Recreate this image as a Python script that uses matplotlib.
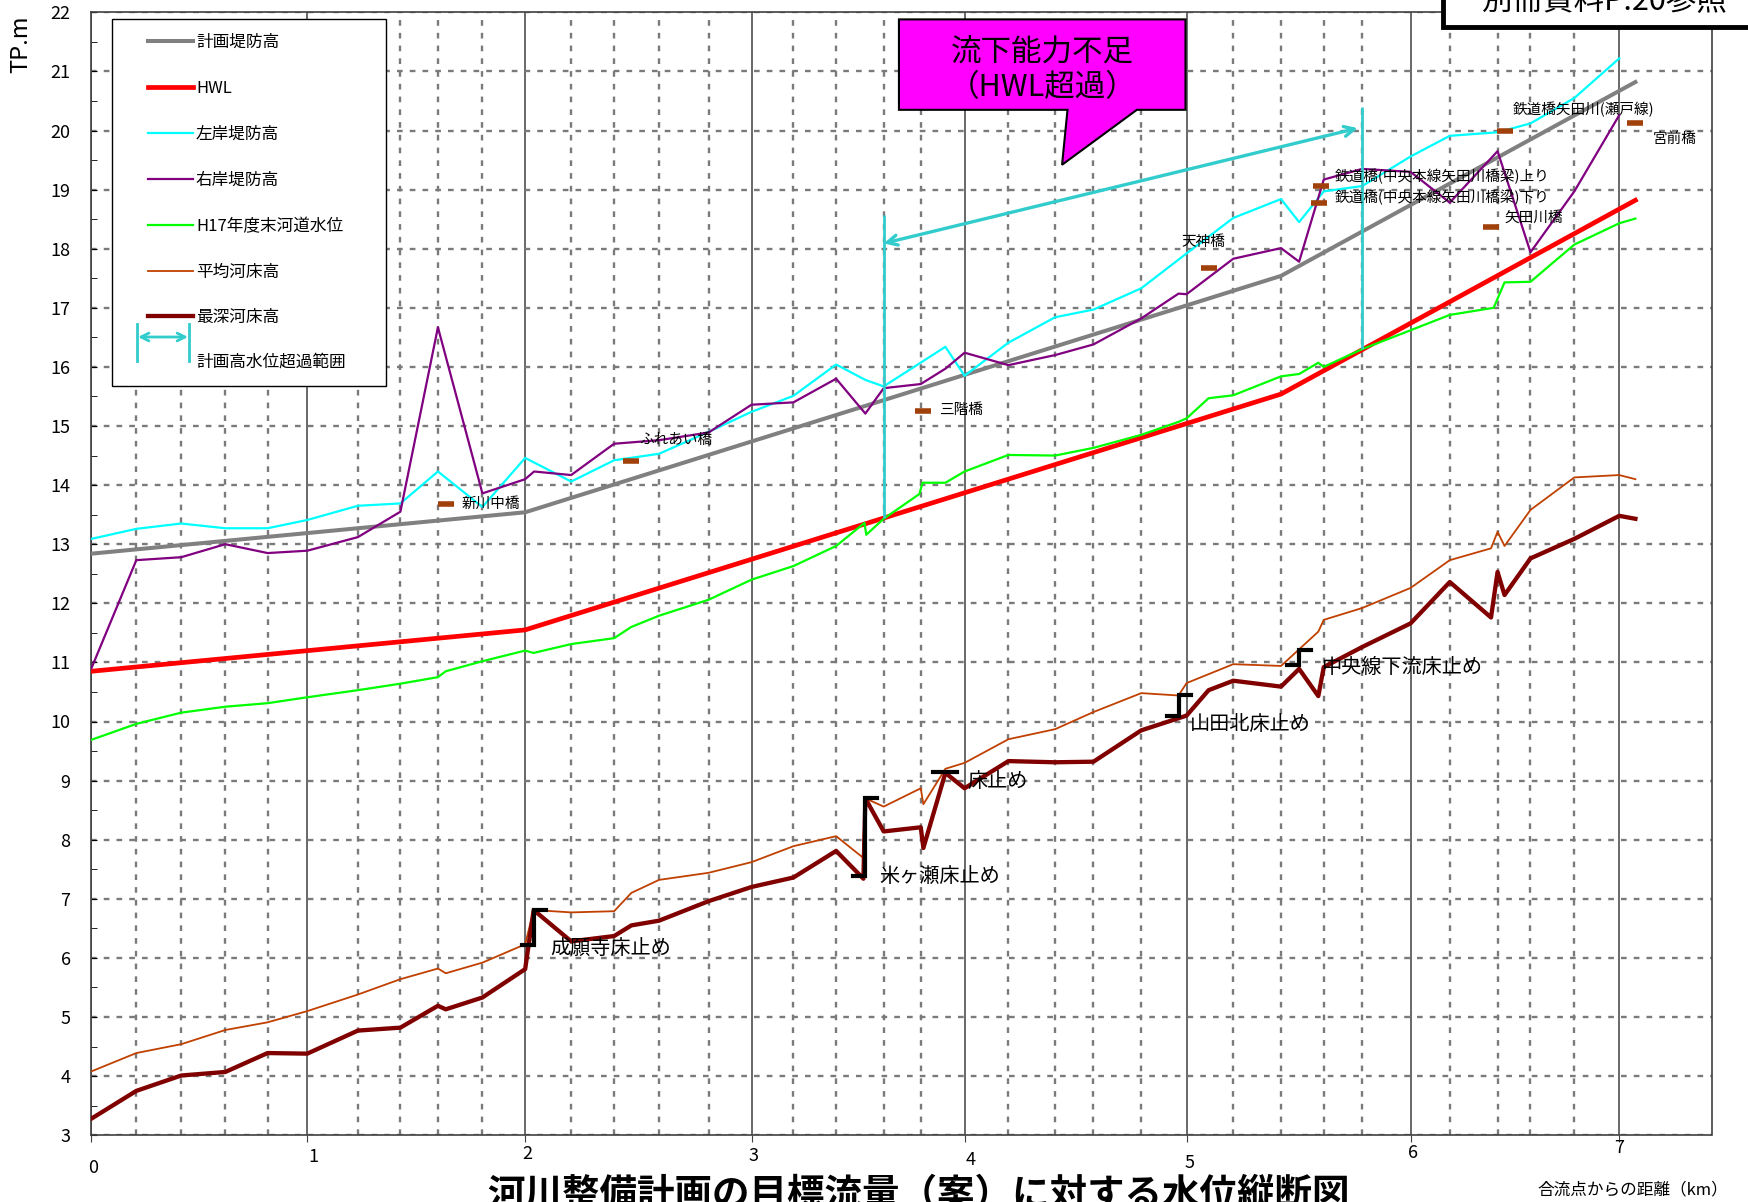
import matplotlib.pyplot as plt
from matplotlib.lines import Line2D
from matplotlib.patches import Polygon, Rectangle, FancyArrowPatch
from matplotlib.ticker import FixedLocator, MultipleLocator

plt.rcParams['font.family'] = ['Noto Sans CJK JP', 'DejaVu Sans']

W, H = 1748, 1202

# 距離標(km)
km_posts = [0.0, 0.99, 1.989, 3.027, 4.004, 5.022, 6.049, 7.006]
km_labels = ['0', '1', '2', '3', '4', '5', '6', '7']

# 測点位置(縦破線)
sections = [0.206, 0.412, 0.614, 0.808, 1.222, 1.417, 1.589, 1.793, 2.2, 2.397,
            2.603, 2.83, 3.219, 3.415, 3.633, 3.803, 4.205, 4.419, 4.595, 4.814,
            5.236, 5.455, 5.651, 5.827, 6.229, 6.448, 6.599, 6.8]

# 計画堤防高 / HWL
plan_km = [0.0, 1.989, 5.455, 7.08]
plan_levee = [12.84, 13.54, 17.54, 20.82]
hwl = [10.85, 11.55, 15.54, 18.82]

# 左岸堤防高
left_km = [0.0, 0.206, 0.412, 0.614, 0.808, 0.99, 1.222, 1.417, 1.589, 1.793,
           1.989, 2.2, 2.397, 2.603, 2.83, 3.027, 3.219, 3.415, 3.549, 3.633,
           3.916, 4.004, 4.205, 4.419, 4.595, 4.814, 5.022, 5.236, 5.455, 5.538,
           5.651, 5.827, 6.049, 6.229, 6.448, 6.599, 6.8, 7.006]
left_levee = [13.09, 13.26, 13.35, 13.27, 13.27, 13.41, 13.65, 13.69, 14.23, 13.63,
              14.46, 14.06, 14.42, 14.53, 14.9, 15.24, 15.51, 16.04, 15.78, 15.67,
              16.34, 15.85, 16.41, 16.84, 16.97, 17.33, 17.92, 18.52, 18.84, 18.45,
              18.97, 19.06, 19.56, 19.91, 19.97, 20.12, 20.55, 21.22]

# 右岸堤防高
right_km = [0.0, 0.206, 0.412, 0.614, 0.808, 0.99, 1.222, 1.417, 1.589, 1.793,
            1.989, 2.03, 2.2, 2.397, 2.603, 2.83, 3.027, 3.219, 3.415, 3.549,
            3.633, 3.803, 3.916, 4.004, 4.205, 4.419, 4.595, 4.814, 4.985, 5.022,
            5.236, 5.455, 5.538, 5.651, 5.827, 6.049, 6.229, 6.448, 6.599, 6.8,
            7.006]
right_levee = [10.9, 12.73, 12.78, 13.0, 12.85, 12.89, 13.12, 13.55, 16.67, 13.86,
               14.10, 14.23, 14.17, 14.70, 14.76, 14.89, 15.36, 15.40, 15.80, 15.21,
               15.64, 15.71, 15.97, 16.24, 16.03, 16.20, 16.38, 16.82, 17.24, 17.23,
               17.83, 18.01, 17.78, 19.17, 19.35, 19.30, 18.78, 19.65, 17.94, 18.97,
               20.26]

# H17年度末河道水位
h17_km = [0.0, 0.206, 0.412, 0.614, 0.808, 0.99, 1.222, 1.417, 1.589, 1.625,
          1.793, 1.989, 2.027, 2.2, 2.397, 2.476, 2.603, 2.83, 3.027, 3.219,
          3.415, 3.545, 3.553, 3.633, 3.797, 3.811, 3.916, 4.004, 4.205, 4.419,
          4.595, 4.814, 4.985, 5.022, 5.123, 5.236, 5.455, 5.538, 5.626, 5.651,
          5.827, 6.049, 6.229, 6.43, 6.48, 6.599, 6.8, 7.006, 7.08]
h17_level = [9.69, 9.96, 10.15, 10.25, 10.31, 10.41, 10.53, 10.64, 10.75, 10.85,
             11.02, 11.20, 11.16, 11.31, 11.41, 11.60, 11.79, 12.06, 12.40, 12.63,
             12.97, 13.36, 13.16, 13.43, 13.85, 14.04, 14.04, 14.23, 14.51, 14.50,
             14.63, 14.85, 15.07, 15.13, 15.47, 15.52, 15.84, 15.88, 16.07, 16.0,
             16.30, 16.62, 16.88, 17.0, 17.43, 17.44, 18.07, 18.43, 18.51]

# 平均河床高
mean_km = [0.0, 0.206, 0.412, 0.614, 0.808, 0.99, 1.222, 1.417, 1.589, 1.625,
           1.793, 1.989, 2.028, 2.2, 2.397, 2.476, 2.603, 2.83, 3.027, 3.219,
           3.415, 3.537, 3.549, 3.633, 3.803, 3.815, 3.916, 4.004, 4.205, 4.419,
           4.595, 4.814, 4.985, 5.022, 5.236, 5.455, 5.626, 5.651, 5.827, 6.049,
           6.229, 6.418, 6.448, 6.48, 6.599, 6.8, 7.006, 7.08]
mean_bed = [4.08, 4.39, 4.54, 4.78, 4.91, 5.10, 5.38, 5.64, 5.82, 5.74,
            5.92, 6.23, 6.81, 6.77, 6.79, 7.10, 7.32, 7.44, 7.62, 7.89,
            8.06, 7.70, 8.70, 8.56, 8.87, 8.60, 9.20, 9.30, 9.70, 9.87,
            10.16, 10.48, 10.44, 10.65, 10.97, 10.94, 11.52, 11.72, 11.92, 12.26,
            12.73, 12.93, 13.21, 12.97, 13.58, 14.13, 14.17, 14.10]

# 最深河床高
deep_km = [0.0, 0.206, 0.412, 0.614, 0.808, 0.99, 1.222, 1.417, 1.589, 1.625,
           1.793, 1.989, 2.028, 2.2, 2.397, 2.476, 2.603, 2.83, 3.027, 3.219,
           3.415, 3.54, 3.549, 3.633, 3.803, 3.815, 3.916, 4.004, 4.205, 4.419,
           4.595, 4.814, 5.022, 5.123, 5.236, 5.455, 5.538, 5.626, 5.651, 5.827,
           6.049, 6.229, 6.418, 6.448, 6.48, 6.599, 6.8, 7.006, 7.08]
deep_bed = [3.28, 3.75, 4.01, 4.07, 4.39, 4.38, 4.77, 4.82, 5.19, 5.13,
            5.33, 5.81, 6.81, 6.28, 6.37, 6.55, 6.63, 6.96, 7.20, 7.36,
            7.81, 7.34, 8.70, 8.14, 8.21, 7.86, 9.13, 8.87, 9.33, 9.31,
            9.32, 9.85, 10.10, 10.53, 10.69, 10.59, 10.89, 10.43, 10.92, 11.26,
            11.66, 12.36, 11.76, 12.53, 12.14, 12.76, 13.09, 13.48, 13.43]

# 橋梁
bridge_names = ['新川中橋', 'ふれあい橋', '三階橋', '天神橋',
                '鉄道橋(中央本線矢田川橋梁)上り', '鉄道橋(中央本線矢田川橋梁)下り',
                '矢田川橋', '鉄道橋矢田川(瀬戸線)', '宮前橋']
bridge_km = [1.625, 2.476, 3.815, 5.123, 5.639, 5.631, 6.418, 6.48, 7.08]
bridge_el = [13.68, 14.41, 15.26, 17.67, 19.06, 18.78, 18.37, 20.0, 20.12]
bridge_text_xy = [(1.697, 13.68), (2.512, 14.77), (3.886, 15.27), (5.0, 18.12),
                  (5.701, 19.22), (5.701, 18.87), (6.481, 18.53), (6.519, 20.36),
                  (7.16, 19.85)]

# 床止め
drop_names = ['成願寺床止め', '米ヶ瀬床止め', '床止め', '山田北床止め', '中央線下流床止め']
drop_km = [2.028, 3.549, 3.916, 4.985, 5.538]
drop_low = [6.22, 7.38, 9.15, 10.10, 10.96]
drop_high = [6.81, 8.70, 9.15, 10.44, 11.21]
drop_text_xy = [(2.104, 6.14), (3.614, 7.38), (4.017, 8.99), (5.035, 9.95), (5.638, 10.92)]

# 計画高水位超過範囲
exceed_km = [3.633, 5.827]
exceed_top = [18.57, 20.40]
exceed_bottom = [13.44, 16.31]

fig = plt.figure(figsize=(W / 100, H / 100), dpi=100)
ax = fig.add_axes([91.4 / W, 1 - 1135.2 / H, 1620.1 / W, 1122.9 / H])
ax.set_xlim(0, 7.429)
ax.set_ylim(3, 22)

# グリッド
dash = (0, (2.4, 3.0))
ax.xaxis.set_major_locator(FixedLocator(km_posts))
ax.xaxis.set_minor_locator(FixedLocator(sections))
ax.yaxis.set_major_locator(MultipleLocator(1))
ax.yaxis.set_minor_locator(MultipleLocator(0.5))
ax.grid(which='major', axis='x', color='#404040', lw=1.1, ls='-')
ax.grid(which='minor', axis='x', color='#7a7a7a', lw=1.7, ls=dash)
ax.grid(which='major', axis='y', color='#7a7a7a', lw=1.7, ls=dash)
ax.set_axisbelow(True)
for s in ax.spines.values():
    s.set_color('#404040')
    s.set_linewidth(1.2)

ax.set_xticklabels([])
ax.tick_params(axis='x', which='major', direction='out', length=5, color='#404040')
ax.tick_params(axis='x', which='minor', length=0)
ax.tick_params(axis='y', which='major', direction='in', length=4, pad=15, labelsize=13)
ax.tick_params(axis='y', which='minor', direction='in', length=4)

drop_px = [33, 22, 19, 21, 25, 28, 18, 13]
shift_px = [2, 6, 2, 2, 6, 3, 2, 0]
for k, t, dy, dx in zip(km_posts, km_labels, drop_px, shift_px):
    ax.annotate(t, xy=(k, 0), xycoords=('data', 'axes fraction'),
                xytext=(dx * 0.72, -dy * 0.72), textcoords='offset points',
                ha='center', va='center', fontsize=13)

# 各縦断線
ax.plot(plan_km, plan_levee, color='#808080', lw=2.9, zorder=3)
ax.plot(plan_km, hwl, color='#FF0000', lw=3.4, zorder=3)
ax.plot(left_km, left_levee, color='#00FFFF', lw=1.6, zorder=3)
ax.plot(right_km, right_levee, color='#800080', lw=1.6, zorder=3)
ax.plot(h17_km, h17_level, color='#00FF00', lw=1.6, zorder=3)
ax.plot(mean_km, mean_bed, color='#C04000', lw=1.3, zorder=3)
ax.plot(deep_km, deep_bed, color='#800000', lw=3.1, zorder=3)

# 橋梁位置
ax.plot(bridge_km, bridge_el, ls='none', marker='_', ms=11, mew=4,
        color='#A0400A', zorder=5)
for name, (tx, ty) in zip(bridge_names, bridge_text_xy):
    ax.text(tx, ty, name, fontsize=10.5, ha='left', va='center', zorder=6)

# 床止め
hw = 0.055
for k, lo, hi in zip(drop_km, drop_low, drop_high):
    ax.plot([k - hw, k, k, k + hw], [lo, lo, hi, hi], color='black', lw=3,
            solid_joinstyle='miter', zorder=5)
for name, (tx, ty) in zip(drop_names, drop_text_xy):
    ax.text(tx, ty, name, fontsize=14.5, ha='left', va='center', zorder=6)

# 計画高水位超過範囲
teal = '#33CCCC'
ax.vlines(exceed_km, exceed_bottom, exceed_top, color=teal, lw=2, zorder=4)
ax.add_patch(FancyArrowPatch((exceed_km[0], 18.09), (exceed_km[1] - 0.02, 20.04),
                             arrowstyle='<->', mutation_scale=18, color=teal,
                             lw=2.4, shrinkA=0, shrinkB=0, zorder=4))

# 吹き出し
callout = Polygon([(3.703, 21.88), (5.017, 21.88), (5.017, 20.35), (4.794, 20.35),
                   (4.451, 19.42), (4.476, 20.35), (3.703, 20.35)],
                  closed=True, facecolor='#FF00FF', edgecolor='black', lw=1.5,
                  zorder=7)
ax.add_patch(callout)
ax.text(4.36, 21.31, '流下能力不足', fontsize=22, ha='center', va='center', zorder=8)
ax.text(4.36, 20.72, '（HWL超過）', fontsize=22, ha='center', va='center', zorder=8)


def fpos(x, y):
    return x / W, 1 - y / H


# 凡例
fig.add_artist(Rectangle(fpos(112, 386), 274 / W, 367 / H, transform=fig.transFigure,
                         facecolor='white', edgecolor='black', lw=1, zorder=10))
legend_rows = [('計画堤防高', '#808080', 2.9), ('HWL', '#FF0000', 3.4),
               ('左岸堤防高', '#00FFFF', 1.6), ('右岸堤防高', '#800080', 1.6),
               ('H17年度末河道水位', '#00FF00', 1.6), ('平均河床高', '#C04000', 1.3),
               ('最深河床高', '#800000', 3.1)]
row_y = [40.5, 86.7, 133, 179, 225, 271, 316]
for (label, c, lw), y in zip(legend_rows, row_y):
    x0, yy = fpos(148, y)
    x1, _ = fpos(193, y)
    fig.add_artist(Line2D([x0, x1], [yy, yy], transform=fig.transFigure,
                          color=c, lw=lw, zorder=11))
    fig.text(*fpos(196, y + 1.5), label, fontsize=12, ha='left', va='center', zorder=11)
for bx in (137, 189):
    xa, ya = fpos(bx, 324)
    _, yb = fpos(bx, 361)
    fig.add_artist(Line2D([xa, xa], [ya, yb], transform=fig.transFigure,
                          color=teal, lw=2, zorder=11))
fig.add_artist(FancyArrowPatch(fpos(138, 337), fpos(188, 337), transform=fig.transFigure,
                               arrowstyle='<->', mutation_scale=14, color=teal, lw=2,
                               shrinkA=0, shrinkB=0, zorder=11))
fig.text(*fpos(196, 362), '計画高水位超過範囲', fontsize=12, ha='left', va='center', zorder=11)

# 参照枠
fig.add_artist(Rectangle(fpos(1443, 27), 330 / W, 60 / H, transform=fig.transFigure,
                         facecolor='white', edgecolor='black', lw=3.5, zorder=10))
fig.text(*fpos(1604, 10), '別冊資料P.20参照', fontsize=22, ha='center', va='baseline',
         zorder=11)

# 軸ラベル・表題
fig.text(*fpos(21, 44.5), 'TP.m', fontsize=17, rotation=90, ha='center', va='center')
fig.text(*fpos(1728, 1189.5), '合流点からの距離（km）', fontsize=12, ha='right', va='center')
fig.text(*fpos(918.5, 1206), '河川整備計画の目標流量（案）に対する水位縦断図',
         fontsize=27, fontweight='bold', ha='center', va='baseline')

fig.savefig('out.png', dpi=100)
